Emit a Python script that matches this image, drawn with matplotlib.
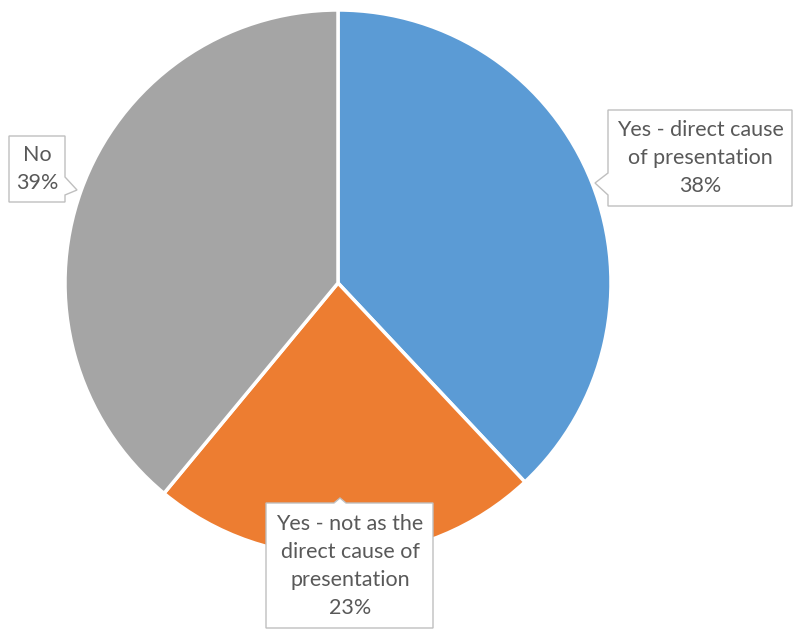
import matplotlib.pyplot as plt
from matplotlib.patches import Polygon

labels = ["Yes - direct cause\nof presentation", "Yes - not as the\ndirect cause of\npresentation", "No"]
values = [38, 23, 39]
colors = ["#5B9BD5", "#ED7D31", "#A5A5A5"]

W, H = 795, 630
fig = plt.figure(figsize=(W / 100, H / 100), dpi=100)
ax = fig.add_axes([0, 0, 1, 1])

# pie in pixel coordinates (y flipped)
ax.pie(values, colors=colors, startangle=90, counterclock=False,
       center=(338, H - 283), radius=273,
       wedgeprops=dict(edgecolor="white", linewidth=2.5))
ax.set_xlim(0, W)
ax.set_ylim(0, H)
ax.set_aspect("auto")
ax.axis("off")


def callout(pts, text_xy, text):
    poly = Polygon([(x, H - y) for x, y in pts], closed=True,
                   facecolor="white", edgecolor="#BFBFBF", linewidth=1, zorder=3)
    ax.add_patch(poly)
    ax.text(text_xy[0], H - text_xy[1], text, ha="center", va="center",
            fontsize=15.5, color="#595959", family=["Lato", "DejaVu Sans"],
            linespacing=1.5, zorder=4)


# right label (blue)
callout([(608, 110), (792, 110), (792, 206), (608, 206), (608, 195),
         (595, 183), (608, 173)],
        (700, 158), f"{labels[0]}\n{values[0]}%")
# bottom label (orange)
callout([(266, 503), (334, 503), (340, 498), (346, 503), (433, 503),
         (433, 628), (266, 628)],
        (350, 566), f"{labels[1]}\n{values[1]}%")
# left label (gray)
callout([(9, 136), (65, 136), (65, 177), (77, 190), (65, 195),
         (65, 202), (9, 202)],
        (37, 169), f"{labels[2]}\n{values[2]}%")

fig.savefig("out.png", dpi=100)
